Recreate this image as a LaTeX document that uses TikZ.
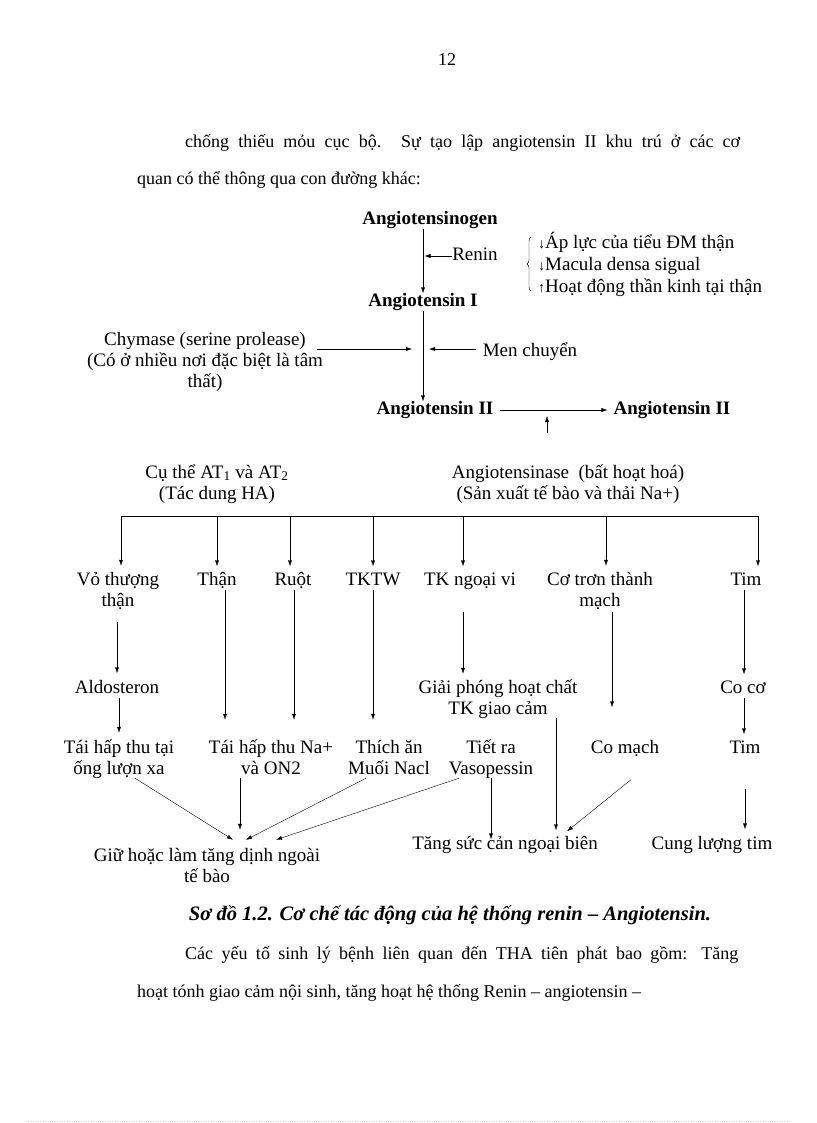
\documentclass[tikz,border=0pt]{standalone}
\usepackage{fontspec}
\setmainfont{Liberation Serif}
\usepackage{tikz}
\usetikzlibrary{arrows.meta,positioning,decorations.pathreplacing}

\newcommand{\dgfont}{\fontsize{19}{21}\selectfont}
\newcommand{\txtfont}{\fontsize{18}{20}\selectfont}
\newcommand{\smallarr}[1]{{\fontsize{14}{14}\selectfont#1}}

\begin{document}
\begin{tikzpicture}[x=1pt,y=-1pt,
  lbl/.style={inner sep=0pt,align=center,font=\dgfont,text height=13pt,text depth=4pt},
  two/.style={text height=34pt},
  three/.style={text height=55pt},
  hd/.style={lbl,font=\dgfont\bfseries},
  txt/.style={inner sep=0pt,anchor=west,font=\txtfont},
  arr/.style={-{Latex[length=6pt,width=4pt]},thin}]

\useasboundingbox (0,0) rectangle (816,1123);

\node[txt,anchor=center] (pagenum) at (447,60) {12};
\node[txt] (body1) at (185,143) {\makebox[555pt][s]{chống thiếu mỏu cục bộ. Sự tạo lập angiotensin II khu trú ở các cơ}};
\node[txt] (body2) at (137,180) {quan có thể thông qua con đường khác:};

% renin - angiotensin
\node[hd] (agen) at (430,220) {Angiotensinogen};
\node[hd] (ang1) at (423,302) {Angiotensin I};
\node[lbl] (renin) at (475,256) {Renin};
\coordinate (reninpt) at (424.5,256);
\draw[arr] (agen.south -| ang1.north) -- (ang1.north);
\draw[arr] (renin.west) -- (reninpt);

\draw[decorate,decoration={brace,amplitude=4pt}] (531,291) -- (531,237);
\node[lbl,align=left,anchor=west,font=\fontsize{19}{22}\selectfont,text height=57pt] (causes) at (538,266)
  {\smallarr{↓}Áp lực của tiểu ĐM thận\\
   \smallarr{↓}Macula densa sigual\\
   \smallarr{↑}Hoạt động thần kinh tại thận};

\node[lbl,three] (chym) at (205,362) {Chymase (serine prolease)\\(Có ở nhiều nơi đặc biệt là tâm\\thất)};
\node[lbl] (men) at (530,352) {Men chuyển};
\node[hd] (ang2a) at (435,410) {Angiotensin II};
\node[hd] (ang2b) at (672,410) {Angiotensin II};
\coordinate (chymend) at (412,349);
\coordinate (menend) at (429,349);
\coordinate (inact) at (547,433);
\coordinate (inacttip) at (547,416);
\draw[arr] (ang1.south) -- (ang2a.north -| ang1.south);
\draw[arr] ([xshift=-6pt]chym.east |- chymend) -- (chymend);
\draw[arr] ([xshift=-7pt]men.west |- menend) -- (menend);
\draw[arr,shorten <=6pt,shorten >=6pt] (ang2a.east) -- (ang2b.west);
\draw[arr] (inact) -- (inacttip);

\node[lbl,two] (recept) at (217,484) {Cụ thể AT\textsubscript{1} và AT\textsubscript{2}\\(Tác dung HA)};
\node[lbl,two] (ase) at (568,484) {Angiotensinase~ (bất hoạt hoá)\\(Sản xuất tế bào và thải Na+)};

% organs
\node[lbl,two] (vo) at (118,591) {Vỏ thượng\\thận};
\node[lbl] (than) at (217,581) {Thận};
\node[lbl] (ruot) at (293,581) {Ruột};
\node[lbl] (tktw) at (373,581) {TKTW};
\node[lbl] (tknv) at (470,581) {TK ngoại vi};
\node[lbl,two] (cotron) at (600,591) {Cơ trơn thành\\mạch};
\node[lbl] (tim) at (746,581) {Tim};

\coordinate (barL) at (121,516);
\coordinate (barR) at (758,516);
\draw (barL) -- (barR);
\foreach \n/\dx in {vo/3,than/0,ruot/-3,tktw/0,tknv/-7,cotron/6,tim/12}
  \draw[arr,shorten >=6pt] ([xshift=\dx pt]\n.north |- barL) -- ([xshift=\dx pt]\n.north);

\node[lbl] (aldo) at (117,689) {Aldosteron};
\node[lbl,two] (giai) at (498,699) {Giải phóng hoạt chất\\TK giao cảm};
\node[lbl] (coco) at (743,689) {Co cơ};
\draw[arr,shorten <=12pt,shorten >=7pt] (aldo.north |- vo.south) -- (aldo.north);
\draw[arr,shorten <=22pt,shorten >=6pt] ([xshift=-7pt]tknv.south) -- ([xshift=-7pt]tknv.south |- giai.north);
\draw[arr,shorten >=6pt] ([xshift=-2pt]tim.south) -- ([xshift=-2pt]tim.south |- coco.north);

\node[lbl,two] (taiA) at (119,759) {Tái hấp thu tại\\ống lượn xa};
\node[lbl,two] (taiB) at (271,759) {Tái hấp thu Na+\\và ON2};
\node[lbl,two] (thich) at (389,759) {Thích ăn\\Muối Nacl};
\node[lbl,two] (tiet) at (491,759) {Tiết ra\\Vasopessin};
\node[lbl] (comach) at (625,749) {Co mạch};
\node[lbl] (tim2) at (745,749) {Tim};
\draw[arr,shorten >=7pt] (aldo.south -| taiA.north) -- (taiA.north);
\draw[arr,shorten >=20pt] ([xshift=8pt]than.south) -- ([xshift=8pt]than.south |- taiB.north);
\draw[arr,shorten >=20pt] ([xshift=1pt]ruot.south) -- ([xshift=1pt]ruot.south |- taiB.north);
\draw[arr,shorten >=20pt] (tktw.south) -- (tktw.south |- thich.north);
\draw[arr,shorten <=2pt,shorten >=33pt] ([xshift=12pt]cotron.south) -- ([xshift=12pt]cotron.south |- comach.north);
\draw[arr,shorten >=6pt] ([xshift=1pt]coco.south) -- ([xshift=1pt]coco.south |- tim2.north);

\node[lbl,two] (giu) at (207,867) {Giữ hoặc làm tăng dịnh ngoài\\tế bào};
\node[lbl] (tang) at (505,845) {Tăng sức cản ngoại biên};
\node[lbl] (cung) at (712,845) {Cung lượng tim};
\draw[arr] ([xshift=16pt]taiA.south) -- ([xshift=26pt,yshift=8pt]giu.north);
\draw[arr] ([xshift=-31pt]taiB.south) -- ([xshift=33pt,yshift=18pt]giu.north);
\draw[arr] ([xshift=-23pt]thich.south) -- ([xshift=39pt,yshift=8pt]giu.north);
\draw[arr] ([xshift=-32pt]tiet.south) -- ([xshift=69pt,yshift=8pt]giu.north);
\draw[arr,shorten >=-3pt] (tiet.south) -- (tiet.south |- tang.north);
\draw[arr] ([xshift=58pt]giai.south) -- ([xshift=51pt,yshift=6pt]tang.north);
\draw[arr] ([xshift=6pt,yshift=-22pt]comach.south) -- ([xshift=62pt,yshift=5pt]tang.north);
\draw[arr,shorten <=31pt,shorten >=7pt] (tim2.south) -- (tim2.south |- cung.north);

\node[txt,anchor=center,font=\fontsize{20.5}{22}\selectfont\bfseries\itshape] (caption) at (450,915) {Sơ đồ 1.2. Cơ chế tác động của hệ thống renin – Angiotensin.};
\node[txt] (body3) at (185,955) {\makebox[553pt][s]{Các yếu tố sinh lý bệnh liên quan đến THA tiên phát bao gồm: Tăng}};
\node[txt] (body4) at (137,993) {hoạt tónh giao cảm nội sinh, tăng hoạt hệ thống Renin – angiotensin –};

\draw[gray!40,dotted] (26,1121) -- (791,1121);
\end{tikzpicture}
\end{document}
